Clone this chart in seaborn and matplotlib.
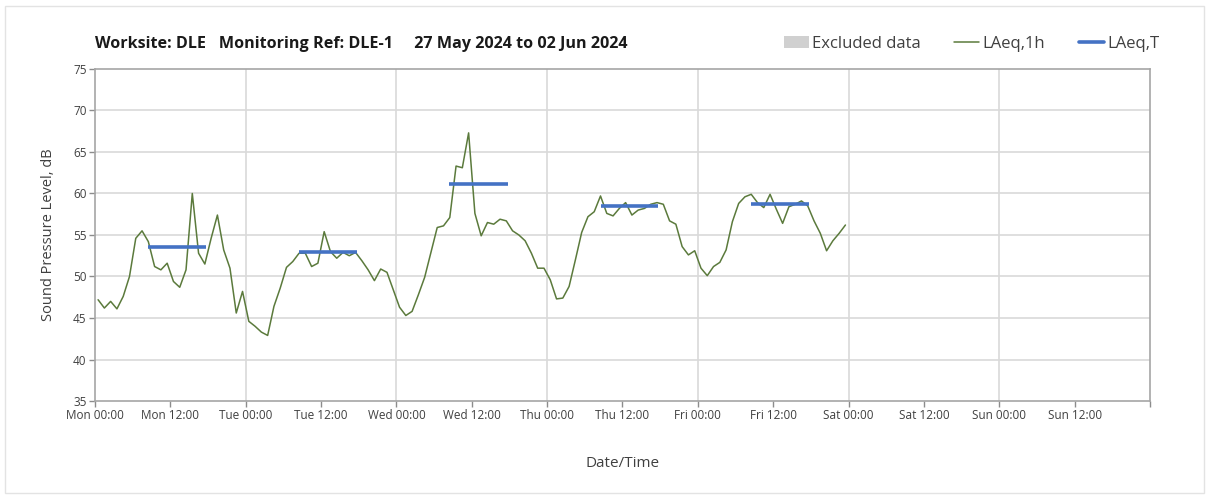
"""Noise monitoring chart: hourly LAeq and daytime LAeq,T for DLE-1"""
import matplotlib.pyplot as plt
from matplotlib.patches import Patch, Rectangle
from matplotlib.lines import Line2D
import numpy as np
import pandas as pd
import seaborn as sns


# hourly LAeq,1h, Mon 00:00 onwards
LAEQ_1H = [47.2, 46.2, 47.0, 46.1, 47.6, 50.0, 54.6, 55.5, 54.2, 51.2, 50.8, 51.6,
           49.4, 48.7, 50.8, 60.0, 52.8, 51.5, 54.6, 57.4, 53.2, 51.0, 45.6, 48.2,
           44.6, 44.0, 43.3, 42.9, 46.4, 48.6, 51.1, 51.8, 52.8, 52.8, 51.2, 51.6,
           55.4, 53.0, 52.2, 52.9, 52.5, 52.9, 51.9, 50.8, 49.5, 50.9, 50.5, 48.4,
           46.3, 45.3, 45.8, 47.8, 49.9, 52.9, 55.9, 56.1, 57.1, 63.3, 63.1, 67.3,
           57.6, 54.9, 56.5, 56.3, 56.9, 56.7, 55.5, 55.0, 54.3, 52.8, 51.0, 51.0,
           49.6, 47.3, 47.4, 48.8, 52.0, 55.3, 57.2, 57.8, 59.7, 57.6, 57.3, 58.2,
           58.9, 57.4, 58.0, 58.2, 58.7, 58.9, 58.7, 56.7, 56.3, 53.6, 52.6, 53.1,
           51.0, 50.1, 51.2, 51.7, 53.2, 56.6, 58.8, 59.6, 59.9, 58.9, 58.3, 59.9,
           58.1, 56.4, 58.4, 58.7, 59.1, 58.5, 56.7, 55.2, 53.1, 54.3, 55.2, 56.2]

# daytime LAeq,T periods (hours from Mon 00:00)
LAEQ_T_START = [8.5, 32.5, 56.4, 80.5, 104.4]
LAEQ_T_END = [17.7, 41.8, 65.7, 89.7, 113.7]
LAEQ_T = [53.5, 52.9, 61.1, 58.5, 58.7]

TICK_LABELS = ['Mon 00:00', 'Mon 12:00', 'Tue 00:00', 'Tue 12:00',
               'Wed 00:00', 'Wed 12:00', 'Thu 00:00', 'Thu 12:00',
               'Fri 00:00', 'Fri 12:00', 'Sat 00:00', 'Sat 12:00',
               'Sun 00:00', 'Sun 12:00', '']

GREEN = '#5b7a3c'
BLUE = '#4472c4'
GRID = '#d9d9d9'
TEXT = '#404040'


def plot_noise():
    sns.set_style('white')
    plt.rcParams['font.family'] = ['Open Sans', 'DejaVu Sans']

    df = pd.DataFrame({'hour': np.arange(len(LAEQ_1H)) + 0.5,
                       'LAeq': LAEQ_1H})

    fig = plt.figure(figsize=(12.08, 4.96), dpi=100)
    ax = fig.add_axes([0.0786, 0.1915, 0.8734, 0.6695])

    # faint outer border
    fig.patches.append(Rectangle((0.004, 0.006), 0.993, 0.982,
                                 transform=fig.transFigure, fill=False,
                                 edgecolor='#e3e3e3', linewidth=1))

    # grid
    for y in range(40, 75, 5):
        ax.axhline(y, color=GRID, linewidth=1.2, zorder=0)
    for x in range(24, 168, 24):
        ax.axvline(x, color=GRID, linewidth=1.2, zorder=0)

    sns.lineplot(data=df, x='hour', y='LAeq', ax=ax, color=GREEN,
                 linewidth=1.1, zorder=3)
    ax.hlines(LAEQ_T, LAEQ_T_START, LAEQ_T_END, color=BLUE, linewidth=2.6,
              zorder=4)

    ax.set_xlim(0, 168)
    ax.set_ylim(35, 75)
    ax.set_yticks(range(35, 80, 5))
    ax.set_xticks(range(0, 169, 12))
    ax.set_xticklabels(TICK_LABELS)
    ax.tick_params(axis='both', labelsize=8.5, colors='#8c8c8c',
                   labelcolor=TEXT, length=4, width=1, direction='out',
                   bottom=True, left=True, pad=2)
    for side in ax.spines.values():
        side.set_color('#a6a6a6')
        side.set_linewidth(1.2)

    ax.set_xlabel('Date/Time', fontsize=11, color=TEXT, labelpad=24)
    ax.set_ylabel('Sound Pressure Level, dB', fontsize=10.5, color=TEXT,
                  labelpad=12)

    fig.text(0.0786, 0.912,
             'Worksite: DLE   Monitoring Ref: DLE-1     27 May 2024 to 02 Jun 2024',
             fontsize=11.6, fontweight='bold', color='#1a1a1a', va='center')

    handles = [Patch(facecolor='#d0d0d0', edgecolor='none'),
               Line2D([], [], color=GREEN, linewidth=1.1),
               Line2D([], [], color=BLUE, linewidth=2.6)]
    fig.legend(handles, ['Excluded data', 'LAeq,1h', 'LAeq,T'],
               loc='center right', bbox_to_anchor=(0.972, 0.912), ncol=3,
               frameon=False, fontsize=12, handlelength=1.5,
               handletextpad=0.2, columnspacing=2.0, labelcolor=TEXT)

    fig.savefig('out.png', dpi=100)


if __name__ == '__main__':
    plot_noise()
